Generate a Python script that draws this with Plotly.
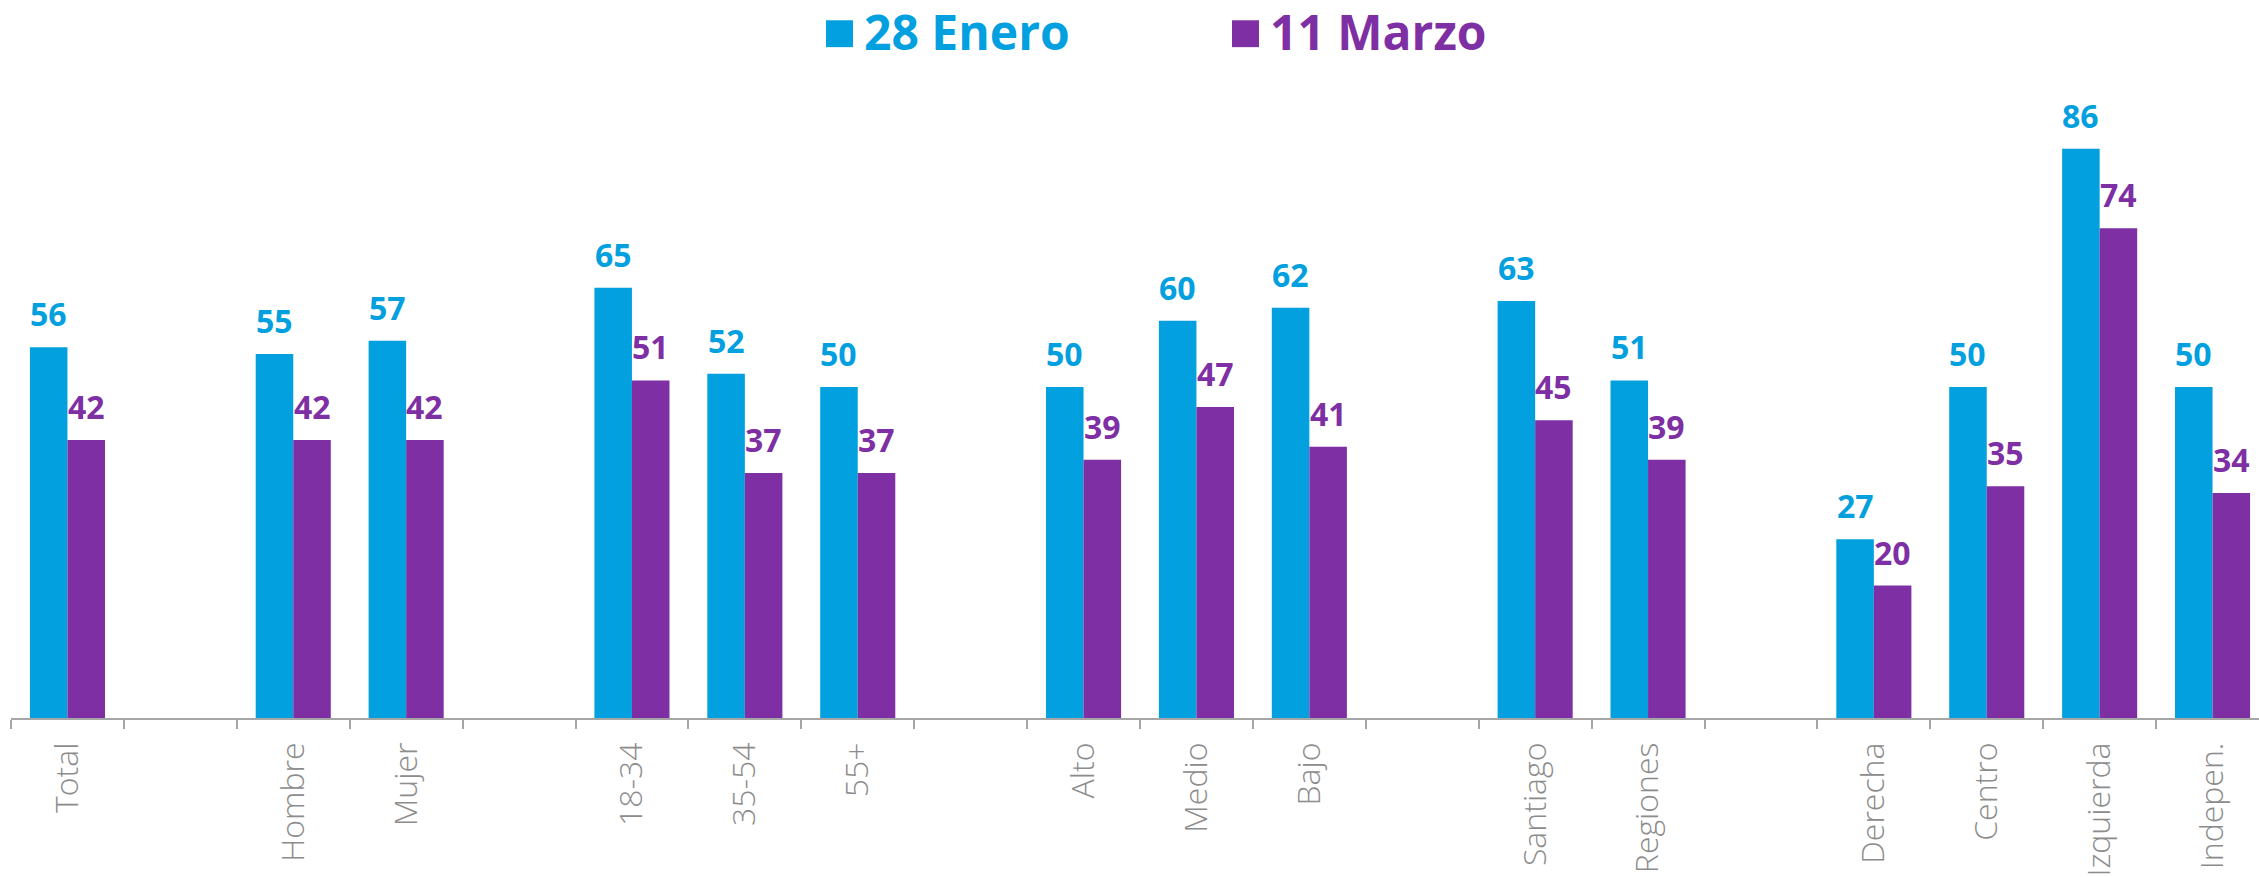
import plotly.graph_objects as go

categories = ["Total", " ", "Hombre", "Mujer", "  ", "18-34", "35-54", "55+", "   ",
              "Alto", "Medio", "Bajo", "    ", "Santiago", "Regiones", "     ",
              "Derecha", "Centro", "Izquierda", "Indepen."]
enero = [56, None, 55, 57, None, 65, 52, 50, None, 50, 60, 62, None, 63, 51, None, 27, 50, 86, 50]
marzo = [42, None, 42, 42, None, 51, 37, 37, None, 39, 47, 41, None, 45, 39, None, 20, 35, 74, 34]
series_names = ["28 Enero", "11 Marzo"]
colors = ["#03A0DF", "#7E2FA3"]

W, H = 2259, 877
L, R, T, B = 11, 0, 80, 156
plot_w = W - L - R
plot_h = H - T - B
cat_px = 112.9
x_max = -0.5 + plot_w / cat_px
y_max = plot_h / 6.65

fig = go.Figure()
for name, vals, col in zip(series_names, [enero, marzo], colors):
    fig.add_trace(go.Bar(x=categories, y=vals, name=name, marker_color=col,
                         marker_line_width=0, showlegend=False))

bar_offset = cat_px * (1 - 0.335) / 4
annotations = []
for vals, col, sgn in [(enero, colors[0], -1), (marzo, colors[1], 1)]:
    for c, v in zip(categories, vals):
        if v is None:
            continue
        annotations.append(dict(x=c, y=v, xref="x", yref="y", text=f"<b>{v}</b>",
                                showarrow=False, yanchor="bottom", xshift=sgn * bar_offset,
                                yshift=10, font=dict(family="Open Sans", size=32, color=col)))

# legend (custom)
def px_to_paper_x(px):
    return (px - L) / plot_w

def px_to_paper_y(py):
    return (H - B - py) / plot_h

shapes = []
leg = [(826, 853, 862, series_names[0], colors[0]), (1232, 1259, 1268, series_names[1], colors[1])]
for x0, x1, tx, name, col in leg:
    shapes.append(dict(type="rect", xref="paper", yref="paper",
                       x0=px_to_paper_x(x0), x1=px_to_paper_x(x1),
                       y0=px_to_paper_y(47), y1=px_to_paper_y(20),
                       fillcolor=col, line_width=0))
    annotations.append(dict(xref="paper", yref="paper", x=px_to_paper_x(tx), y=px_to_paper_y(31),
                            xanchor="left", yanchor="middle", showarrow=False,
                            text=f"<b>{name}</b>",
                            font=dict(family="Open Sans", size=48, color=col)))

fig.update_layout(
    width=W, height=H,
    margin=dict(l=L, r=R, t=T, b=B, pad=0),
    barmode="group", bargap=0.335, bargroupgap=0,
    plot_bgcolor="white", paper_bgcolor="white",
    xaxis=dict(type="category", categoryorder="array", categoryarray=categories,
               range=[-0.5, x_max], tickson="boundaries", ticks="outside", ticklen=9,
               tickcolor="#A6A6A6", tickwidth=1.5, showline=True, linecolor="#A6A6A6",
               linewidth=1.5, tickangle=-90, showgrid=False, ticklabelstandoff=10,
               tickfont=dict(family="Open Sans", size=32, weight=300, color="#8C8C8C")),
    yaxis=dict(range=[0, y_max], visible=False, showgrid=False, zeroline=False),
    annotations=annotations, shapes=shapes,
)

fig.write_html("out.html")
